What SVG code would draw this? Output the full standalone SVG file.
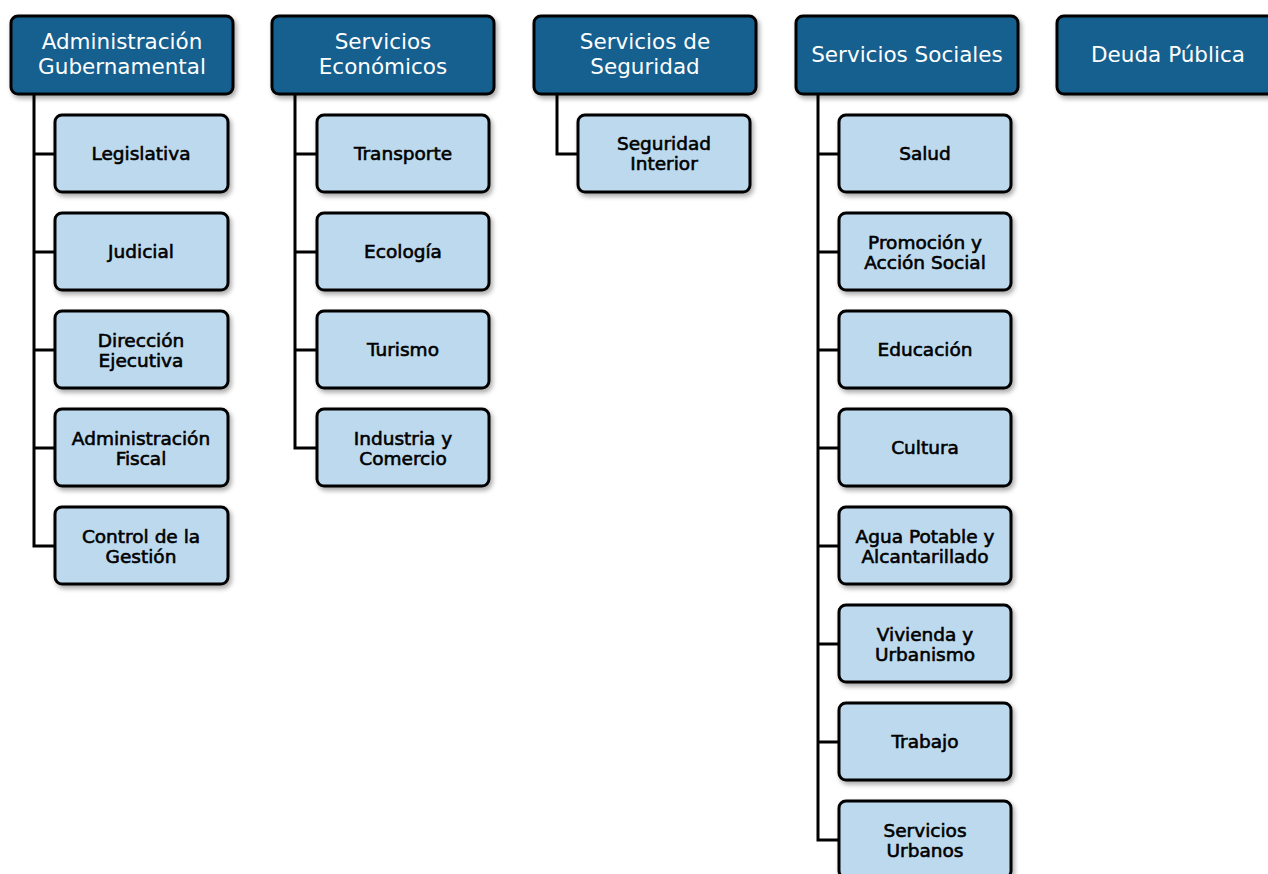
<svg xmlns="http://www.w3.org/2000/svg" width="1268" height="874" viewBox="0 0 1268 874">
<defs>
<filter id="sh" x="-10%" y="-10%" width="130%" height="130%">
<feGaussianBlur in="SourceAlpha" stdDeviation="2.5"/>
<feOffset dx="2" dy="3" result="b"/>
<feComponentTransfer><feFuncA type="linear" slope="0.35"/></feComponentTransfer>
<feMerge><feMergeNode/><feMergeNode in="SourceGraphic"/></feMerge>
</filter>
</defs>
<style>
.h rect{fill:#17608f;stroke:#000;stroke-width:3;filter:url(#sh)}
.h text{fill:#fff;font-family:"DejaVu Sans",Verdana,sans-serif;font-size:21.5px;text-anchor:middle}
.c rect{fill:#bdd9ed;stroke:#000;stroke-width:3;filter:url(#sh)}
.c text{fill:#000;stroke:#000;stroke-width:0.6px;font-family:"DejaVu Sans",Verdana,sans-serif;font-size:18.5px;text-anchor:middle}
.ln path{fill:none;stroke:#000;stroke-width:3}
</style>
<rect width="1268" height="874" fill="#fff"/>
<g id="connectors" class="ln">
<path d="M34 93V546H55M34 154H55M34 252H55M34 350H55M34 448H55"/>
<path d="M295 93V448H317M295 154H317M295 252H317M295 350H317"/>
<path d="M557 93V154H578"/>
<path d="M818 93V840H839M818 154H839M818 252H839M818 350H839M818 448H839M818 546H839M818 644H839M818 742H839"/>
</g>
<g id="h1" class="h"><rect x="11" y="16" width="222" height="78" rx="7"/><text x="122" y="49">Administración</text><text x="122" y="74">Gubernamental</text></g>
<g id="h2" class="h"><rect x="272" y="16" width="222" height="78" rx="7"/><text x="383" y="49">Servicios</text><text x="383" y="74">Económicos</text></g>
<g id="h3" class="h"><rect x="534" y="16" width="222" height="78" rx="7"/><text x="645" y="49">Servicios de</text><text x="645" y="74">Seguridad</text></g>
<g id="h4" class="h"><rect x="796" y="16" width="222" height="78" rx="7"/><text x="907" y="62">Servicios Sociales</text></g>
<g id="h5" class="h"><rect x="1057" y="16" width="222" height="78" rx="7"/><text x="1168" y="62">Deuda Pública</text></g>

<g id="c-legislativa" class="c"><rect x="55" y="115" width="173" height="77" rx="7"/><text x="141" y="160">Legislativa</text></g>
<g id="c-judicial" class="c"><rect x="55" y="213" width="173" height="77" rx="7"/><text x="141" y="258">Judicial</text></g>
<g id="c-direccion" class="c"><rect x="55" y="311" width="173" height="77" rx="7"/><text x="141" y="347">Dirección</text><text x="141" y="367">Ejecutiva</text></g>
<g id="c-adminfiscal" class="c"><rect x="55" y="409" width="173" height="77" rx="7"/><text x="141" y="445">Administración</text><text x="141" y="465">Fiscal</text></g>
<g id="c-control" class="c"><rect x="55" y="507" width="173" height="77" rx="7"/><text x="141" y="543">Control de la</text><text x="141" y="563">Gestión</text></g>

<g id="c-transporte" class="c"><rect x="317" y="115" width="172" height="77" rx="7"/><text x="403" y="160">Transporte</text></g>
<g id="c-ecologia" class="c"><rect x="317" y="213" width="172" height="77" rx="7"/><text x="403" y="258">Ecología</text></g>
<g id="c-turismo" class="c"><rect x="317" y="311" width="172" height="77" rx="7"/><text x="403" y="356">Turismo</text></g>
<g id="c-industria" class="c"><rect x="317" y="409" width="172" height="77" rx="7"/><text x="403" y="445">Industria y</text><text x="403" y="465">Comercio</text></g>

<g id="c-seguridad" class="c"><rect x="578" y="115" width="172" height="77" rx="7"/><text x="664" y="150">Seguridad</text><text x="664" y="170">Interior</text></g>

<g id="c-salud" class="c"><rect x="839" y="115" width="172" height="77" rx="7"/><text x="925" y="160">Salud</text></g>
<g id="c-promocion" class="c"><rect x="839" y="213" width="172" height="77" rx="7"/><text x="925" y="249">Promoción y</text><text x="925" y="269">Acción Social</text></g>
<g id="c-educacion" class="c"><rect x="839" y="311" width="172" height="77" rx="7"/><text x="925" y="356">Educación</text></g>
<g id="c-cultura" class="c"><rect x="839" y="409" width="172" height="77" rx="7"/><text x="925" y="454">Cultura</text></g>
<g id="c-agua" class="c"><rect x="839" y="507" width="172" height="77" rx="7"/><text x="925" y="543">Agua Potable y</text><text x="925" y="563">Alcantarillado</text></g>
<g id="c-vivienda" class="c"><rect x="839" y="605" width="172" height="77" rx="7"/><text x="925" y="641">Vivienda y</text><text x="925" y="661">Urbanismo</text></g>
<g id="c-trabajo" class="c"><rect x="839" y="703" width="172" height="77" rx="7"/><text x="925" y="748">Trabajo</text></g>
<g id="c-urbanos" class="c"><rect x="839" y="801" width="172" height="77" rx="7"/><text x="925" y="837">Servicios</text><text x="925" y="857">Urbanos</text></g>
</svg>
